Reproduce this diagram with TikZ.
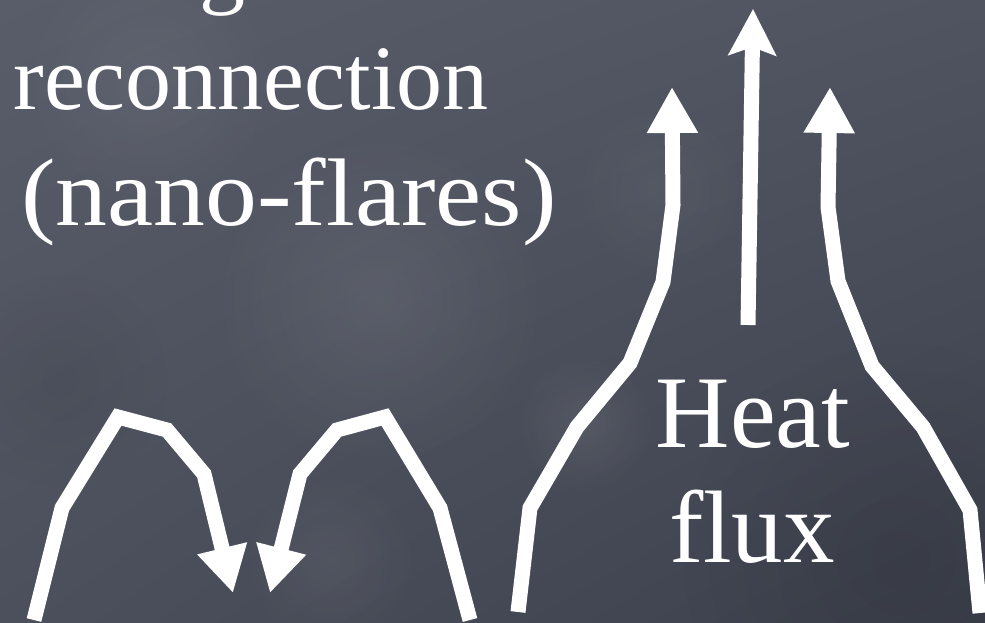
\documentclass[tikz,border=0pt]{standalone}
\usepackage{fontspec}
\setmainfont{Liberation Serif}
\usetikzlibrary{arrows.meta,fadings,shadings}
\tikzfading[name=softblob, inner color=transparent!0, outer color=transparent!100]
\definecolor{slateUL}{RGB}{89,93,106}
\definecolor{slateUR}{RGB}{80,84,96}
\definecolor{slateLL}{RGB}{76,80,92}
\definecolor{slateLR}{RGB}{60,64,76}
\newcommand{\leftfont}{\fontsize{92}{112}\selectfont}
\newcommand{\rightfont}{\fontsize{103}{115}\selectfont}
\begin{document}
\begin{tikzpicture}[x=1pt,y=-1pt,
  fieldline/.style={draw=white, line width=15pt, line join=miter, line cap=butt},
  flattip/.style={-{Triangle[length=46pt,width=48pt]}},
  notchtip/.style={-{Stealth[length=46pt,width=47pt,inset=8pt]}},
  txt/.style={text=white, inner sep=0pt, anchor=base},
  blob/.style={path fading=softblob},
]
\useasboundingbox (0,0) rectangle (985,623);
\begin{scope}
  \clip (0,0) rectangle (985,623);
  % slate backdrop
  \shade[upper left=slateUL, upper right=slateUR,
         lower left=slateLL, lower right=slateLR]
    (0,0) rectangle (985,623);
  % soft mottling
  \fill[white, opacity=0.07, blob] (380,300) circle (170);
  \fill[white, opacity=0.05, blob] (150,80) circle (130);
  \fill[white, opacity=0.07, blob] (585,425) circle (70);
  \fill[white, opacity=0.04, blob] (660,190) circle (90);
  \fill[white, opacity=0.05, blob] (330,560) circle (90);
  \fill[black, opacity=0.10, blob] (900,560) circle (220);
  \fill[black, opacity=0.06, blob] (60,380) circle (110);

  % title lines (the first one runs off the top edge)
  \node[txt, font=\leftfont] (magnetic) at (251,-3) {Magnetic};
  \node[txt, font=\leftfont] (recon) at (251,110) {reconnection};
  \node[txt, font=\fontsize{96}{112}\selectfont] (nano) at (289,225)
    {\scalebox{1.08}[1]{(nano-flares)}};

  % heat flux label
  \node[txt, font=\rightfont] (heat) at (753,447) {Heat};
  \node[txt, font=\rightfont] (flux) at (752,562) {flux};
\end{scope}

% reconnecting loops
\coordinate (lloopfoot) at (34,620);
\coordinate (lloopend)  at (233,593);
\coordinate (rloopfoot) at (470,620);
\coordinate (rloopend)  at (270,593);
\draw[fieldline, flattip] (lloopfoot) -- (62,508) -- (118,417) -- (167,430) -- (204,474) -- (lloopend);
\draw[fieldline, flattip] (rloopfoot) -- (440,508) -- (385,417) -- (337,430) -- (300,474) -- (rloopend);

% open funnel with upward heat flux
\coordinate (lfoot) at (518,612);
\coordinate (ltop)  at (672,87);
\coordinate (rfoot) at (980,613);
\coordinate (rtop)  at (830,87);
\coordinate (cbase) at (748,325);
\coordinate (ctop)  at (753,9);
\draw[fieldline, flattip] (lfoot) -- (530,508) -- (577,427) -- (630,363) -- (663,282) -- (673,205) -- (ltop);
\draw[fieldline, flattip] (rfoot) -- (970,510) -- (923,427) -- (872,366) -- (838,281) -- (828,207) -- (rtop);
\draw[fieldline, notchtip] (cbase) -- (ctop);
\end{tikzpicture}
\end{document}
